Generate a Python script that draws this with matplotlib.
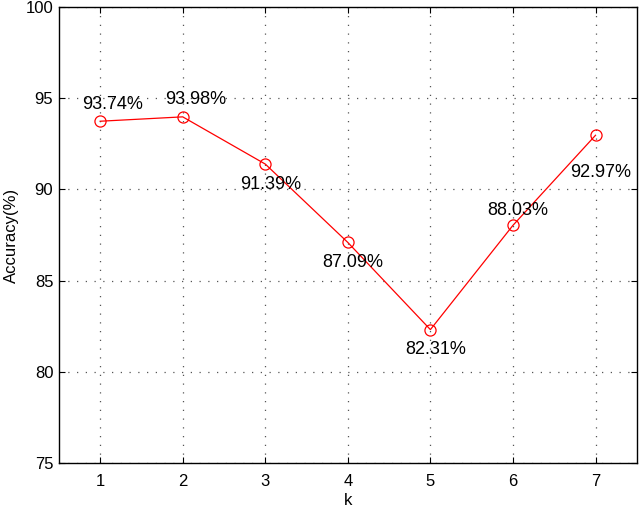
import matplotlib
matplotlib.use("Agg")
import matplotlib.pyplot as plt

# values
k_values = [1, 2, 3, 4, 5, 6, 7]
accuracy = [93.74, 93.98, 91.39, 87.09, 82.31, 88.03, 92.97]
labels = ["93.74%", "93.98%", "91.39%", "87.09%", "82.31%", "88.03%", "92.97%"]

# label offsets in points (where the text sits relative to its marker)
label_offsets = [(8.6, 12.2), (9, 12.2), (3.6, -15), (3.6, -14.4),
                 (4, -14.4), (3.6, 10.8), (3.6, -27)]

plt.rcParams.update({
    "font.family": ["Liberation Sans", "DejaVu Sans"],
    "font.size": 12,
})

fig = plt.figure(figsize=(6.4, 5.07), dpi=100)
ax = fig.add_axes([0.092, 0.087, 0.903, 0.899])

ax.plot(k_values, accuracy, color="red", linewidth=0.9, marker="o",
        markersize=8, markerfacecolor="none", markeredgecolor="red",
        markeredgewidth=0.9, zorder=3)

for x, y, txt, (dx, dy) in zip(k_values, accuracy, labels, label_offsets):
    ax.annotate(txt, xy=(x, y), xytext=(dx, dy), textcoords="offset points",
                ha="center", va="center", fontsize=13)

ax.set_xlim(0.5, 7.5)
ax.set_ylim(75, 100)
ax.set_xticks(k_values)
ax.set_yticks([75, 80, 85, 90, 95, 100])
ax.set_xlabel("k", fontsize=12, labelpad=3)
ax.set_ylabel("Accuracy(%)", fontsize=12, labelpad=5)

# matlab look: inward ticks on all sides, dotted grid, box
ax.tick_params(direction="in", top=True, right=True, length=4, width=0.8,
               labelsize=12)
ax.tick_params(axis="x", pad=8)
ax.tick_params(axis="y", pad=4)
ax.grid(True, linestyle=(0, (1, 6)), color="#555555", linewidth=0.9)
for s in ax.spines.values():
    s.set_linewidth(1.0)

fig.patch.set_facecolor("white")
fig.savefig("out.png", dpi=100, facecolor="white")
